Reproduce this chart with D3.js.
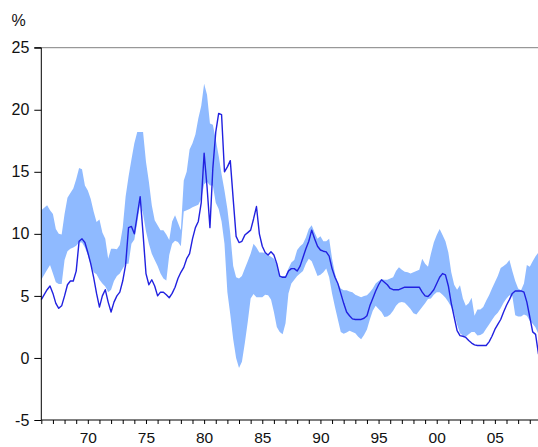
<!DOCTYPE html>
<html>
<head>
<meta charset="utf-8">
<script src="https://cdn.jsdelivr.net/npm/d3@7"></script>
<style>
  html, body { margin: 0; padding: 0; background: #fff; }
  svg { display: block; font-family: "Liberation Sans", Arial, sans-serif; }
</style>
</head>
<body>
<svg id="chart" width="538" height="447"></svg>
<script>
// Quarterly series, first quarter 1966 onward
const startYear = 1966;

// Actual rate (%)
const actualRate = [
  4.7, 5.1, 5.5, 5.8, 5.2, 4.4, 4.0, 4.2, 5.0, 5.9, 6.2, 6.2,
  7.0, 9.4, 9.6, 9.3, 8.5, 7.6, 6.5, 5.2, 4.1, 5.0, 5.5, 4.5,
  3.7, 4.5, 5.0, 5.3, 6.2, 7.5, 10.5, 10.6, 10.0, 11.5, 13.0, 10.0,
  6.8, 5.9, 6.3, 5.8, 5.0, 5.3, 5.3, 5.1, 4.85, 5.2, 5.7, 6.4,
  6.9, 7.3, 8.0, 8.4, 9.6, 10.5, 11.0, 12.5, 16.5, 13.8, 10.5, 15.3,
  18.2, 19.7, 19.6, 15.0, 15.4, 15.9, 12.8, 9.8, 9.3, 9.4, 9.9, 10.1,
  10.3, 11.2, 12.2, 10.0, 9.0, 8.5, 8.3, 8.55, 8.3, 7.6, 6.6, 6.5,
  6.5, 7.0, 7.2, 7.2, 7.0, 7.4, 8.1, 8.8, 9.4, 10.3, 9.6, 9.0,
  8.7, 8.6, 8.55, 8.2, 7.2, 6.5, 6.0, 5.2, 4.4, 3.7, 3.4, 3.15,
  3.1, 3.1, 3.1, 3.2, 3.4, 4.2, 4.8, 5.4, 5.9, 6.3, 6.1, 5.9,
  5.6, 5.5, 5.5, 5.5, 5.6, 5.7, 5.7, 5.7, 5.7, 5.7, 5.7, 5.3,
  5.0, 4.95, 5.2, 5.5, 6.0, 6.5, 6.8, 6.7, 5.8, 4.4, 3.3, 2.2,
  1.8, 1.75, 1.65, 1.4, 1.2, 1.05, 1.0, 1.0, 1.0, 1.0, 1.3, 1.75,
  2.3, 2.7, 3.1, 3.7, 4.25, 4.7, 5.2, 5.4, 5.4, 5.4, 5.3, 4.5,
  3.3, 2.1, 1.9, 0.3
];

// Upper edge of the range (%)
const rangeUpper = [
  11.9, 12.1, 12.3, 11.9, 11.6, 10.4, 10.0, 9.95, 11.6, 12.9, 13.3, 13.65,
  14.4, 15.3, 15.2, 13.9, 13.5, 12.8, 11.8, 10.95, 11.15, 10.1, 9.6, 8.0,
  8.8, 8.8, 8.75, 9.1, 10.5, 13.0, 14.6, 16.0, 17.3, 18.2, 18.2, 18.2,
  15.8, 14.2, 12.3, 11.1, 10.7, 10.3, 10.3, 9.95, 9.5, 11.0, 11.5, 10.9,
  10.3, 14.3, 15.0, 16.8, 17.3, 18.0, 19.3, 20.3, 22.1, 21.2, 18.9, 18.8,
  17.6, 16.3, 14.8, 13.5, 12.0, 10.0, 7.4, 6.5, 6.4, 6.6, 7.2, 7.8,
  8.4, 9.2, 8.9, 8.5, 8.5, 8.45, 8.3, 8.15, 8.0, 7.6, 6.6, 6.6,
  6.6, 7.2, 7.7, 7.9, 8.7, 9.0, 9.2, 9.7, 10.4, 10.7, 10.1, 9.6,
  9.8, 9.4, 9.4, 9.6, 8.0, 6.8, 6.0, 5.6, 5.45, 5.45, 5.35, 5.3,
  5.1, 5.0, 4.9, 5.0, 5.05, 5.3, 5.6, 6.0, 6.2, 6.35, 6.3, 6.3,
  6.4, 6.5, 7.0, 7.3, 7.1, 6.95, 6.9, 6.8, 6.9, 7.0, 7.1, 8.0,
  7.6, 7.35, 8.4, 9.3, 9.9, 10.4, 9.9, 9.4, 8.5, 6.9, 5.9, 5.5,
  5.85, 4.8, 4.2, 4.4, 4.85, 3.4, 3.9, 3.9, 4.1, 4.6, 5.05, 5.6,
  6.1, 6.6, 7.25, 7.4, 7.6, 7.9, 7.0, 6.2, 5.6, 5.45, 6.0, 7.5,
  7.35, 7.8, 8.2, 8.5
];

// Lower edge of the range (%)
const rangeLower = [
  6.3, 6.7, 7.1, 7.5, 6.8, 6.1, 5.95, 5.95, 7.9, 8.6, 8.8, 8.9,
  9.05, 9.3, 9.3, 8.9, 8.3, 7.5, 6.9, 6.75, 6.3, 6.0, 5.75, 5.3,
  5.5, 6.2, 6.6, 6.8, 7.2, 7.6, 7.6, 9.2, 9.55, 10.9, 12.4, 11.6,
  10.2, 9.2, 8.4, 7.9, 7.4, 6.8, 6.4, 6.25, 8.3, 9.2, 9.45, 9.35,
  9.0, 11.8, 11.9, 12.0, 12.15, 12.25, 12.35, 12.8, 14.0, 14.2, 13.9, 13.9,
  12.5, 12.0, 11.0, 9.2, 5.3, 3.5, 1.5, 0.0, -0.8, -0.3, 1.2, 2.9,
  4.8, 5.15, 4.9, 4.9, 4.9, 5.1, 5.05, 4.7, 3.7, 2.5, 2.1, 1.9,
  2.8, 5.2, 6.0, 6.3, 6.6, 6.8, 7.0, 7.6, 8.0, 7.8, 7.2, 6.6,
  6.7, 6.9, 7.2, 6.5, 5.2, 4.1, 3.1, 2.1, 1.95, 2.05, 2.2, 2.1,
  2.0, 1.7, 1.5, 1.85, 2.3, 3.1, 3.8, 4.2, 3.95, 3.7, 3.3, 3.35,
  3.5, 3.8, 4.2, 4.45, 4.5, 4.45, 4.2, 3.95, 3.6, 3.5, 3.8, 4.1,
  4.4, 4.75, 4.8, 5.1, 5.3, 5.3, 5.1, 4.85, 4.5, 4.1, 3.6, 2.7,
  2.0, 1.8, 1.7, 1.9, 2.1, 2.1, 1.8, 1.85, 2.0, 2.35, 2.7, 3.05,
  3.4, 3.65, 4.0, 4.45, 4.8, 5.05, 5.0, 3.45, 3.35, 3.35, 3.5, 3.4,
  3.0, 2.75, 2.45, 1.9
];

// Axis ticks
const yTicks = [-5, 0, 5, 10, 15, 20, 25];
const xLabelYears = [1970, 1975, 1980, 1985, 1990, 1995, 2000, 2005];

const rows = actualRate.map((v, i) => ({
  t: startYear + i / 4,
  actual: v,
  hi: rangeUpper[i],
  lo: rangeLower[i]
}));

const svg = d3.select("#chart");

const x = d3.scaleLinear().domain([1966, 2009]).range([41.3, 541.4]);
const y = d3.scaleLinear().domain([-5, 25]).range([420, 47.7]);

// Shaded range
const area = d3.area()
  .x(d => x(d.t))
  .y0(d => y(d.lo))
  .y1(d => y(d.hi));

svg.append("path")
  .datum(rows)
  .attr("d", area)
  .attr("fill", "#8fbaff")
  .attr("stroke", "none");

// Actual rate line
const line = d3.line()
  .x(d => x(d.t))
  .y(d => y(d.actual));

svg.append("path")
  .datum(rows)
  .attr("d", line)
  .attr("fill", "none")
  .attr("stroke", "#2121e0")
  .attr("stroke-width", 1.4)
  .attr("stroke-linejoin", "round");

// Top frame line
svg.append("line")
  .attr("x1", x(1966)).attr("x2", 538)
  .attr("y1", y(25)).attr("y2", y(25))
  .attr("stroke", "#808080")
  .attr("stroke-width", 1);

// Left axis (plain hyphen for negatives)
const yAxis = d3.axisLeft(y)
  .tickValues(yTicks)
  .tickSize(7)
  .tickPadding(5)
  .tickFormat(d => String(d));

const gy = svg.append("g")
  .attr("transform", `translate(${x(1966)},0)`)
  .call(yAxis);
gy.select(".domain").attr("stroke", "#000").attr("d", `M-7,${y(25)}H0V${y(-5)}`);
gy.selectAll(".tick line").attr("stroke", "#000");
gy.selectAll(".tick text")
  .attr("font-size", 16)
  .attr("fill", "#111")
  .attr("font-family", "Liberation Sans, Arial, sans-serif");

// Bottom axis: yearly ticks, labels every five years
const xAxis = d3.axisBottom(x)
  .tickValues(d3.range(1966, 2009))
  .tickSize(4)
  .tickPadding(8)
  .tickFormat(d => xLabelYears.includes(d) ? String(d % 100).padStart(2, "0") : "");

const gx = svg.append("g")
  .attr("transform", `translate(0,${y(-5)})`)
  .call(xAxis);
gx.select(".domain").attr("stroke", "#000").attr("d", `M${x(1966)},0H538`);
gx.selectAll(".tick line").attr("stroke", "#000");
gx.selectAll(".tick text")
  .attr("font-size", 15.5)
  .attr("fill", "#111")
  .attr("font-family", "Liberation Sans, Arial, sans-serif");

// Unit label
svg.append("text")
  .attr("x", 11.5)
  .attr("y", 26)
  .attr("font-size", 16)
  .attr("fill", "#111")
  .text("%");
</script>
</body>
</html>
